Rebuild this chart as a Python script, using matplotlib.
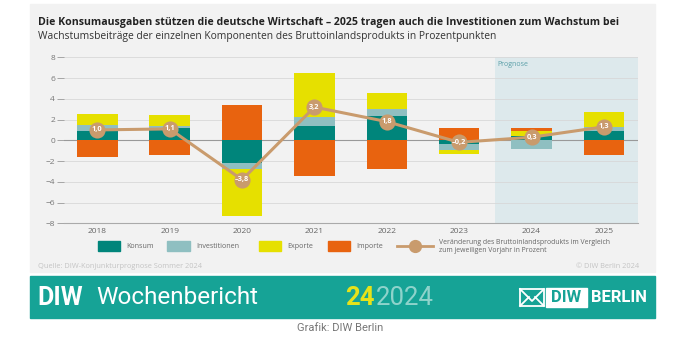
import matplotlib
matplotlib.use('Agg')
import numpy as np
import matplotlib.pyplot as plt
from matplotlib.patches import Rectangle
from matplotlib.lines import Line2D

# Daten (Wachstumsbeiträge in Prozentpunkten)
years = ['2018', '2019', '2020', '2021', '2022', '2023', '2024', '2025']
konsum = [0.9, 1.2, -2.2, 1.4, 2.3, -0.4, 0.45, 0.85]
investitionen = [0.55, 0.15, -0.6, 0.8, 0.7, -0.5, -0.85, 0.45]
exporte = [1.1, 1.05, -4.45, 4.3, 1.6, -0.45, 0.45, 1.4]
importe = [-1.6, -1.4, 3.4, -3.4, -2.8, 1.15, 0.25, -1.4]
bip = [1.0, 1.1, -3.8, 3.2, 1.8, -0.2, 0.3, 1.3]
prognose_ab = '2024'
yticks = [-8, -6, -4, -2, 0, 2, 4, 6, 8]

names = ['Konsum', 'Investitionen', 'Exporte', 'Importe']
colors = ['#00857b', '#8fbfc1', '#e6e000', '#e8630f']
line_col = '#c99b6d'
teal = '#16a396'

plt.rcParams['font.family'] = ['Open Sans', 'DejaVu Sans']

W, H = 680, 344
fig = plt.figure(figsize=(W / 100, H / 100), dpi=100)
fig.patch.set_facecolor('white')


def fx(x):
    return x / W


def fy(y):
    return 1 - y / H


# Hintergrund-Karte und Banner
fig.patches.append(Rectangle((fx(30), fy(272)), 625 / W, 268 / H, transform=fig.transFigure,
                             color='#f2f2f2', zorder=-5))
fig.patches.append(Rectangle((fx(30), fy(318)), 625 / W, 42 / H, transform=fig.transFigure,
                             color=teal, zorder=-5))

# Titel
fig.text(fx(38), fy(24.5), 'Die Konsumausgaben stützen die deutsche Wirtschaft – 2025 tragen auch die '
         'Investitionen zum Wachstum bei', fontsize=7.55, fontweight='bold', color='#222222', va='baseline')
fig.text(fx(38), fy(39.5), 'Wachstumsbeiträge der einzelnen Komponenten des Bruttoinlandsprodukts in '
         'Prozentpunkten', fontsize=7.4, color='#333333', va='baseline')

# Diagramm
ax = fig.add_axes([fx(64), fy(223.3), (638 - 64) / W, (223.3 - 57.3) / H])
ax.set_zorder(2)
ax.set_facecolor('#f2f2f2')
x = np.arange(len(years))
xmin, xmax = -0.46, 7.47
ax.set_xlim(xmin, xmax)
ax.set_ylim(-8, 8)

p = years.index(prognose_ab)
ax.axvspan(p - 0.5, xmax, color='#dde9ec', zorder=0, lw=0)
ax.text(p - 0.47, 7.6, 'Prognose', fontsize=5, color='#5a9fa8', va='top', ha='left')

for t in yticks[1:]:
    ax.axhline(t, color='#d8d8d8', lw=0.6, zorder=1)
ax.axhline(0, color='#999999', lw=0.8, zorder=1.5)

pos_base = np.zeros(len(years))
neg_base = np.zeros(len(years))
for vals, col in zip([konsum, investitionen, exporte, importe], colors):
    v = np.array(vals)
    bottom = np.where(v >= 0, pos_base, neg_base)
    ax.bar(x, v, bottom=bottom, width=0.56, color=col, lw=0, zorder=3)
    pos_base += np.clip(v, 0, None)
    neg_base += np.clip(v, None, 0)

ax.plot(x, bip, color=line_col, lw=2.2, zorder=4, solid_capstyle='round')
ax.scatter(x, bip, s=135, color=line_col, zorder=5, lw=0)
for xi, b in zip(x, bip):
    lab = ('%.1f' % b).replace('.', ',').replace('-', '–')
    ax.text(xi, b, lab, fontsize=5.3, color='white', fontweight='bold', ha='center', va='center', zorder=6)

for s in ['top', 'right', 'left']:
    ax.spines[s].set_visible(False)
ax.spines['bottom'].set_color('#aaaaaa')
ax.spines['bottom'].set_linewidth(0.8)
ax.set_xticks(x)
ax.set_xticklabels(years)
ax.set_yticks(yticks)
ax.tick_params(axis='x', length=0, pad=3.5, labelsize=6, labelcolor='#666666')
ax.tick_params(axis='y', length=5, width=0.6, color='#999999', pad=1.5, labelsize=6, labelcolor='#777777')

# Legende
leg_x = [97.7, 167, 258.7, 327.7]
for lx, name, col in zip(leg_x, names, colors):
    fig.patches.append(Rectangle((fx(lx), fy(251)), 22.5 / W, 10 / H, transform=fig.transFigure,
                                 color=col, zorder=2))
    fig.text(fx(lx + 29), fy(246), name, fontsize=5.1, color='#666666', va='center')
fig.lines.append(Line2D([fx(397), fx(433)], [fy(246), fy(246)], transform=fig.transFigure,
                        color=line_col, lw=2))
fig.lines.append(Line2D([fx(415)], [fy(246)], transform=fig.transFigure, marker='o',
                        markersize=8.5, color=line_col, lw=0))
fig.text(fx(439), fy(246.5), 'Veränderung des Bruttoinlandsprodukts im Vergleich\nzum jeweiligen Vorjahr '
         'in Prozent', fontsize=4.95, color='#666666', va='center', linespacing=1.2)

# Quelle
fig.text(fx(38), fy(266), 'Quelle: DIW-Konjunkturprognose Sommer 2024', fontsize=5.3, color='#c4c4c4',
         va='center')
fig.text(fx(639), fy(266), '© DIW Berlin 2024', fontsize=5.3, color='#c4c4c4', va='center', ha='right')

# Banner
bfont = ['Roboto', 'DejaVu Sans']
fig.text(fx(37), fy(298), 'DIW', fontsize=18, fontweight='bold', color='white', va='center', family=bfont)
fig.text(fx(96), fy(298), 'Wochenbericht', fontsize=17.5, color='white', va='center', family=bfont)
fig.text(fx(345), fy(298), '24', fontsize=18.5, fontweight='bold', color='#e6e21a', va='center', family=bfont)
fig.text(fx(376), fy(298), '2024', fontsize=18.5, color='#8ed3cb', va='center', family=bfont)
# Logo
for xs, ys in [([520, 532, 544], [289, 301, 289]), ([520, 544, 544, 520, 520], [289, 289, 306, 306, 289]),
               ([520, 529], [306, 297]), ([544, 535], [306, 297])]:
    fig.lines.append(Line2D([fx(v) for v in xs], [fy(v) for v in ys], transform=fig.transFigure,
                            color='white', lw=1.3))
fig.patches.append(Rectangle((fx(546), fy(307)), 41 / W, 19 / H, transform=fig.transFigure,
                             color='white', zorder=2))
fig.text(fx(566.5), fy(297.5), 'DIW', fontsize=12, fontweight='bold', color=teal, va='center', ha='center',
         family=bfont)
fig.text(fx(591), fy(297.5), 'BERLIN', fontsize=12, fontweight='bold', color='white', va='center',
         family=bfont)

fig.text(fx(340), fy(328), 'Grafik: DIW Berlin', fontsize=8, color='#777777', ha='center', va='center',
         family=bfont)

fig.savefig('out.png', dpi=100, facecolor='white')
